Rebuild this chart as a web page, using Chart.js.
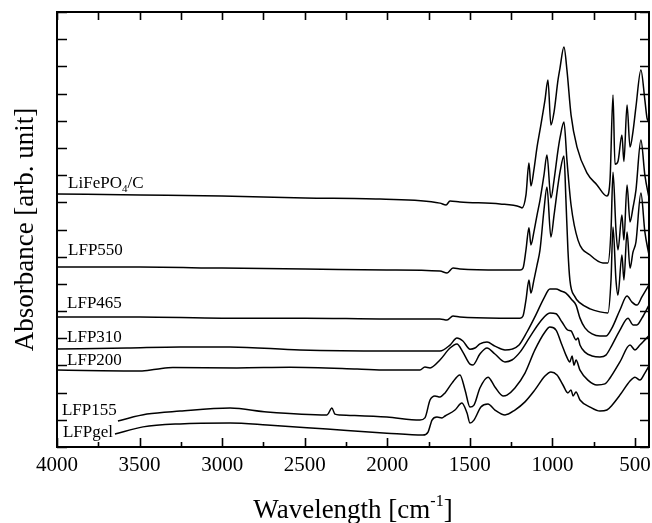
<!DOCTYPE html>
<html>
<head>
<meta charset="utf-8">
<script src="https://cdn.jsdelivr.net/npm/chart.js@4/dist/chart.umd.min.js"></script>
<style>
  html, body { margin: 0; padding: 0; background: #fff; }
  #wrap { width: 652px; height: 523px; }
</style>
</head>
<body>
<div id="wrap"><canvas id="c" width="652" height="523"></canvas></div>
<script>
// Wavenumber axis: labelled ticks and the minor ticks between them (cm^-1)
const xTickValues = [4000, 3500, 3000, 2500, 2000, 1500, 1000, 500];
const xMinorValues = [3750, 3250, 2750, 2250, 1750, 1250, 750];

// FTIR spectra, stacked with offsets (absorbance in arb. units)
const lfpCWave = [4000, 3497, 3001, 2498, 2044, 1681, 1644, 1620, 1560, 1317, 1196, 1184, 1160, 1142, 1130, 1112, 1093, 1075, 1045, 1027, 1009, 990, 966, 954, 930, 912, 887, 851, 791, 730, 670, 651, 633, 621, 603, 579, 567, 548, 530, 512, 494, 464, 440, 427, 415];
const lfpCAbs  = [9.31, 9.27, 9.23, 9.16, 9.12, 8.97, 8.90, 9.05, 9.01, 8.94, 8.83, 8.79, 9.27, 10.45, 9.60, 10.19, 11.03, 11.66, 12.76, 13.50, 11.84, 12.32, 13.50, 13.94, 14.71, 13.87, 12.21, 11.03, 10.08, 9.64, 9.23, 9.82, 12.95, 10.40, 10.50, 11.48, 10.50, 12.58, 11.03, 11.60, 12.51, 13.87, 12.76, 12.10, 11.95];

const lfp550Wave = [4000, 3497, 3001, 2498, 2002, 1681, 1638, 1602, 1560, 1317, 1196, 1178, 1160, 1142, 1130, 1112, 1093, 1075, 1051, 1033, 1009, 990, 966, 954, 930, 912, 887, 845, 772, 694, 664, 645, 633, 615, 603, 579, 567, 548, 530, 512, 494, 464, 440, 415];
const lfp550Abs  = [6.62, 6.62, 6.58, 6.55, 6.51, 6.47, 6.40, 6.58, 6.55, 6.51, 6.51, 6.58, 7.25, 8.06, 7.43, 7.91, 8.53, 9.08, 10.00, 10.74, 9.16, 9.82, 10.92, 11.37, 11.95, 10.56, 8.90, 7.61, 7.06, 6.77, 6.77, 7.98, 10.11, 7.98, 7.25, 8.53, 7.61, 9.64, 8.28, 8.80, 9.45, 11.29, 10.00, 9.16];

const lfp465Wave = [4000, 3497, 3001, 2498, 2002, 1681, 1638, 1602, 1560, 1317, 1196, 1178, 1160, 1142, 1130, 1112, 1093, 1075, 1051, 1033, 1009, 990, 966, 954, 930, 918, 906, 894, 863, 833, 772, 712, 664, 645, 633, 615, 603, 579, 567, 548, 530, 512, 494, 464, 440, 415];
const lfp465Abs  = [4.78, 4.78, 4.74, 4.74, 4.71, 4.71, 4.67, 4.82, 4.78, 4.74, 4.74, 4.82, 5.41, 6.14, 5.66, 6.14, 6.69, 7.25, 8.72, 9.56, 7.72, 8.53, 9.64, 10.11, 10.70, 9.08, 7.25, 6.14, 5.52, 5.30, 5.08, 4.97, 4.93, 6.14, 8.09, 6.14, 5.59, 7.06, 6.14, 7.91, 6.58, 7.17, 7.54, 9.34, 7.91, 7.06];

const lfp310Wave = [4000, 3576, 3255, 2952, 2529, 2002, 1681, 1620, 1578, 1542, 1499, 1469, 1439, 1396, 1348, 1287, 1245, 1202, 1154, 1100, 1051, 1015, 978, 948, 918, 881, 857, 833, 803, 760, 712, 676, 639, 591, 548, 518, 488, 458, 415];
const lfp310Abs  = [3.60, 3.64, 3.68, 3.68, 3.57, 3.53, 3.53, 3.75, 4.01, 3.90, 3.60, 3.64, 3.79, 3.86, 3.71, 3.57, 3.60, 3.75, 4.23, 4.86, 5.48, 5.81, 5.81, 5.74, 5.66, 5.41, 5.22, 4.74, 4.38, 4.16, 4.08, 4.08, 4.38, 5.04, 5.55, 5.33, 5.22, 5.52, 5.96];

const lfp200Wave = [4000, 3497, 3400, 3298, 2910, 2589, 2183, 2002, 1802, 1772, 1741, 1681, 1620, 1578, 1542, 1499, 1481, 1439, 1396, 1348, 1287, 1245, 1196, 1136, 1075, 1015, 978, 942, 906, 887, 857, 845, 833, 803, 760, 712, 676, 639, 591, 542, 512, 488, 458, 415];
const lfp200Abs  = [2.83, 2.80, 2.86, 2.92, 2.91, 2.93, 2.87, 2.83, 2.83, 2.94, 2.91, 3.20, 3.64, 3.79, 3.49, 3.05, 3.02, 3.42, 3.64, 3.42, 3.13, 3.20, 3.49, 4.05, 4.60, 4.93, 4.90, 4.60, 4.30, 4.27, 3.94, 4.01, 3.75, 3.49, 3.35, 3.31, 3.38, 3.75, 4.30, 4.74, 4.49, 4.49, 4.74, 5.22];

const lfp155Wave = [3631, 3455, 3255, 2952, 2728, 2365, 2335, 2317, 2286, 2002, 1802, 1772, 1741, 1711, 1681, 1650, 1608, 1560, 1529, 1499, 1475, 1439, 1390, 1348, 1299, 1275, 1227, 1166, 1106, 1045, 1015, 978, 942, 918, 894, 881, 869, 857, 833, 785, 730, 682, 651, 591, 530, 500, 470, 440, 415];
const lfp155Abs  = [0.96, 1.21, 1.32, 1.43, 1.29, 1.18, 1.43, 1.21, 1.18, 1.10, 0.99, 1.07, 1.73, 1.88, 1.84, 1.99, 2.35, 2.65, 2.10, 1.47, 1.54, 2.17, 2.57, 2.21, 1.88, 1.91, 2.17, 2.72, 3.57, 4.23, 4.41, 4.30, 3.75, 3.38, 3.13, 3.35, 3.01, 3.20, 2.83, 2.46, 2.28, 2.32, 2.54, 3.13, 3.75, 3.57, 3.75, 3.94, 4.10];

const lfpGelWave = [3649, 3479, 3255, 2952, 2728, 2365, 2002, 1784, 1753, 1729, 1699, 1669, 1650, 1590, 1548, 1517, 1499, 1475, 1433, 1390, 1348, 1287, 1227, 1166, 1106, 1045, 1009, 972, 936, 906, 887, 875, 857, 833, 772, 712, 670, 639, 591, 530, 500, 470, 440, 415];
const lfpGelAbs  = [0.48, 0.74, 0.85, 0.88, 0.81, 0.66, 0.51, 0.44, 0.55, 0.99, 1.10, 1.07, 1.14, 1.36, 1.62, 1.25, 0.88, 0.99, 1.47, 1.58, 1.36, 1.18, 1.36, 1.66, 2.10, 2.61, 2.76, 2.65, 2.28, 1.99, 2.10, 1.88, 2.02, 1.73, 1.47, 1.32, 1.36, 1.54, 1.91, 2.43, 2.57, 2.46, 2.72, 2.98];

// Sample names, top trace to bottom trace
const sampleNames = ['LiFePO4/C', 'LFP550', 'LFP465', 'LFP310', 'LFP200', 'LFP155', 'LFPgel'];

const spectra = [
  [lfpCWave, lfpCAbs], [lfp550Wave, lfp550Abs], [lfp465Wave, lfp465Abs],
  [lfp310Wave, lfp310Abs], [lfp200Wave, lfp200Abs], [lfp155Wave, lfp155Abs],
  [lfpGelWave, lfpGelAbs]
];

// Where each sample name sits (wavenumber, absorbance of its text baseline)
const labelAnchors = [
  [3933, 9.53], [3933, 7.06], [3939, 5.11], [3939, 3.86],
  [3939, 3.02], [3970, 1.18], [3964, 0.37]
];

const SERIF = '"Liberation Serif", "Times New Roman", serif';

const datasets = spectra.map(([w, a], i) => ({
  label: sampleNames[i],
  data: w.map((v, k) => ({ x: v, y: a[k] })),
  borderColor: '#000',
  borderWidth: 1.5,
  pointRadius: 0,
  fill: false,
  cubicInterpolationMode: 'monotone'
}));

// Frame plus inward-pointing tick marks on all four sides
const frameTicks = {
  id: 'frameTicks',
  afterDatasetsDraw(chart) {
    const { ctx, chartArea: a, scales: { x, y } } = chart;
    ctx.save();
    ctx.strokeStyle = '#000';
    ctx.lineWidth = 2;
    ctx.strokeRect(a.left, a.top, a.right - a.left, a.bottom - a.top);
    ctx.lineWidth = 1.6;
    ctx.beginPath();
    const vt = (px, len) => {
      ctx.moveTo(px, a.bottom); ctx.lineTo(px, a.bottom - len);
      ctx.moveTo(px, a.top); ctx.lineTo(px, a.top + 8);
    };
    xTickValues.forEach(v => vt(Math.round(x.getPixelForValue(v)) + 0.5, 9));
    xMinorValues.forEach(v => vt(Math.round(x.getPixelForValue(v)) + 0.5, 5));
    y.ticks.forEach(t => {
      const py = Math.round(y.getPixelForValue(t.value)) + 0.5;
      ctx.moveTo(a.left, py); ctx.lineTo(a.left + 10, py);
      ctx.moveTo(a.right, py); ctx.lineTo(a.right - 9, py);
    });
    ctx.stroke();
    ctx.restore();
  }
};

// Sample names next to each trace, and the wavenumber axis title with its superscript
const textLayer = {
  id: 'textLayer',
  afterDatasetsDraw(chart) {
    const { ctx, chartArea: a, scales: { x, y } } = chart;
    ctx.save();
    ctx.fillStyle = '#000';
    ctx.textBaseline = 'alphabetic';
    ctx.textAlign = 'left';
    sampleNames.forEach((name, i) => {
      let px = x.getPixelForValue(labelAnchors[i][0]);
      const py = y.getPixelForValue(labelAnchors[i][1]);
      ctx.font = '17px ' + SERIF;
      const m = name.match(/^(.*?)(\d)(\/.*)$/);
      if (m) {
        ctx.fillText(m[1], px, py); px += ctx.measureText(m[1]).width;
        ctx.font = '11px ' + SERIF;
        ctx.fillText(m[2], px, py + 4); px += ctx.measureText(m[2]).width;
        ctx.font = '17px ' + SERIF;
        ctx.fillText(m[3], px, py);
      } else {
        ctx.fillText(name, px, py);
      }
    });
    // axis title: Wavelength [cm-1]
    const main = 'Wavelength [cm', sup = '-1', end = ']';
    ctx.font = '27px ' + SERIF;
    const w1 = ctx.measureText(main).width, w3 = ctx.measureText(end).width;
    ctx.font = '16px ' + SERIF;
    const w2 = ctx.measureText(sup).width;
    let tx = (a.left + a.right) / 2 - (w1 + w2 + w3) / 2;
    const ty = 518;
    ctx.font = '27px ' + SERIF; ctx.fillText(main, tx, ty); tx += w1;
    ctx.font = '16px ' + SERIF; ctx.fillText(sup, tx, ty - 12); tx += w2;
    ctx.font = '27px ' + SERIF; ctx.fillText(end, tx, ty);
    ctx.restore();
  }
};

new Chart(document.getElementById('c'), {
  type: 'line',
  data: { datasets },
  options: {
    responsive: false,
    animation: false,
    devicePixelRatio: 1,
    layout: { padding: { top: 12, right: 3, bottom: 0, left: 0 } },
    plugins: { legend: { display: false }, tooltip: { enabled: false } },
    scales: {
      x: {
        type: 'linear', reverse: true, min: 415, max: 4000,
        afterBuildTicks: s => { s.ticks = xTickValues.map(v => ({ value: v })); },
        afterFit: s => { s.height = 76; s.paddingLeft = 0; s.paddingRight = 0; },
        grid: { display: false, drawTicks: false },
        border: { display: false },
        ticks: {
          color: '#000', font: { family: SERIF, size: 21 }, padding: 6,
          maxRotation: 0, autoSkip: false,
          callback: v => String(v)
        }
      },
      y: {
        min: 0, max: 16,
        afterFit: s => { s.width = 57; },
        grid: { display: false, drawTicks: false },
        border: { display: false },
        ticks: { display: false, stepSize: 1 },
        title: {
          display: true, text: 'Absorbance [arb. unit]', color: '#000',
          font: { family: SERIF, size: 27, lineHeight: 1 },
          padding: { top: 12, bottom: 0 }
        }
      }
    }
  },
  plugins: [frameTicks, textLayer]
});
</script>
</body>
</html>
